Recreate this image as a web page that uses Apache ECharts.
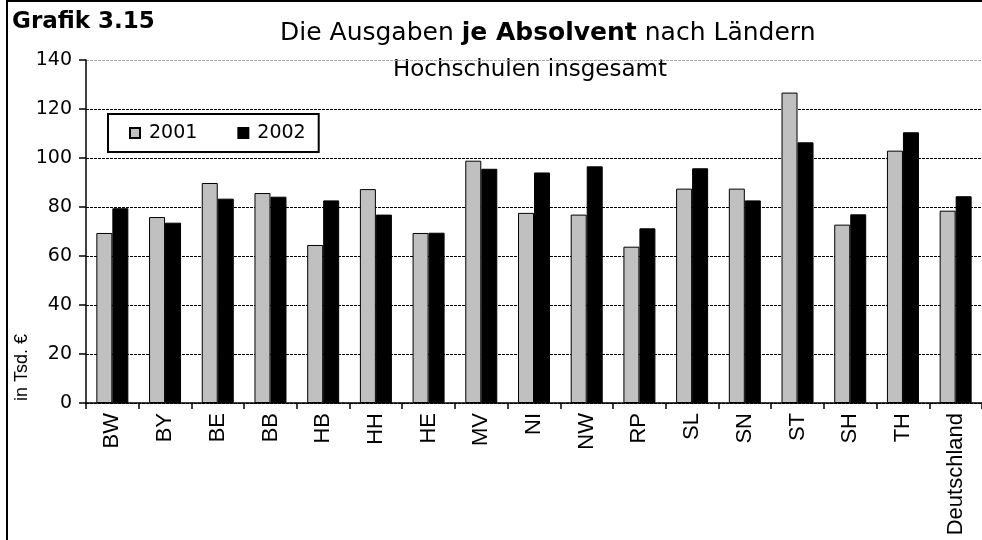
<!DOCTYPE html>
<html>
<head>
<meta charset="utf-8">
<script src="https://cdn.jsdelivr.net/npm/echarts@6/dist/echarts.min.js"></script>
<style>
  html, body { margin: 0; padding: 0; background: #fff; }
  #chart { width: 982px; height: 540px; }
</style>
</head>
<body>
<div id="chart"></div>
<script>
// Länder (Kurzbezeichnungen) und Deutschland gesamt
const categories = ['BW', 'BY', 'BE', 'BB', 'HB', 'HH', 'HE', 'MV', 'NI', 'NW', 'RP', 'SL', 'SN', 'ST', 'SH', 'TH', 'Deutschland'];
// Ausgaben je Absolvent in Tsd. €
const values2001 = [69.4, 75.9, 89.8, 85.7, 64.5, 87.3, 69.4, 98.9, 77.6, 76.9, 63.8, 87.5, 87.5, 126.7, 72.8, 103.0, 78.5];
const values2002 = [79.5, 73.6, 83.4, 84.2, 82.7, 76.9, 69.5, 95.6, 94.1, 96.6, 71.3, 95.8, 82.7, 106.4, 77.0, 110.5, 84.4];
const seriesNames = ['2001', '2002'];
const yTicks = [0, 20, 40, 60, 80, 100, 120, 140];

const SANS = 'DejaVu Sans';
const ARIAL = 'Liberation Sans';

const chart = echarts.init(document.getElementById('chart'), null, { renderer: 'canvas' });

// gridlines: dark dashed, top line lighter
const gridColors = yTicks.map((t, i) => (i === yTicks.length - 1 ? '#a8a8a8' : '#000'));

chart.setOption({
  animation: false,
  backgroundColor: '#fff',
  grid: { left: 86, top: 60, width: 905, height: 343, containLabel: false },
  legend: {
    left: 108,
    top: 114,
    orient: 'horizontal',
    itemWidth: 10,
    itemHeight: 10,
    itemGap: 40,
    padding: [9, 13, 9, 21],
    borderColor: '#000',
    borderWidth: 2,
    borderRadius: 0,
    backgroundColor: '#fff',
    icon: 'rect',
    textStyle: { fontFamily: SANS, fontSize: 19, color: '#000', lineHeight: 20, padding: [0, 0, 0, 4] },
    data: seriesNames
  },
  xAxis: {
    type: 'category',
    data: categories,
    boundaryGap: true,
    axisLine: { lineStyle: { color: '#000', width: 1.5 } },
    axisTick: { show: true, length: 6, lineStyle: { color: '#000', width: 1.5 } },
    axisLabel: { rotate: 90, margin: 10, interval: 0, fontFamily: ARIAL, fontSize: 22, color: '#000' },
    splitLine: { show: false }
  },
  yAxis: {
    type: 'value',
    min: 0,
    max: 140,
    interval: 20,
    axisLine: { show: true, lineStyle: { color: '#000', width: 1.5 } },
    axisTick: { show: true, inside: false, length: 7, lineStyle: { color: '#000', width: 1.5 } },
    axisLabel: { margin: 14, fontFamily: SANS, fontSize: 19, color: '#000' },
    splitLine: { show: true, lineStyle: { color: gridColors, width: 1, type: [3, 1] } }
  },
  series: [
    {
      name: seriesNames[0],
      type: 'bar',
      data: values2001,
      barWidth: 16,
      barGap: '0%',
      itemStyle: { color: '#c0c0c0', borderColor: '#000', borderWidth: 1 }
    },
    {
      name: seriesNames[1],
      type: 'bar',
      data: values2002,
      barWidth: 16,
      barGap: '0%',
      itemStyle: { color: '#000', borderColor: '#000', borderWidth: 1 }
    }
  ],
  graphic: [
    // frame
    {
      type: 'polyline',
      shape: { points: [[7, 545], [7, 1], [990, 1]] },
      style: { stroke: '#000', lineWidth: 2, fill: null },
      silent: true
    },
    {
      type: 'text',
      x: 12, y: 22,
      style: { text: 'Grafik 3.15', font: 'bold 23px "DejaVu Sans"', fill: '#000', align: 'left', verticalAlign: 'middle' }
    },
    {
      type: 'text',
      x: 280, y: 33,
      style: {
        text: '{n|Die Ausgaben }{b|je Absolvent}{n| nach Ländern}',
        align: 'left',
        verticalAlign: 'middle',
        rich: {
          n: { fontFamily: SANS, fontSize: 25, color: '#000' },
          b: { fontFamily: SANS, fontSize: 25, fontWeight: 'bold', color: '#000' }
        }
      }
    },
    {
      type: 'text',
      x: 393, y: 70,
      style: { text: 'Hochschulen insgesamt', font: '23px "DejaVu Sans"', fill: '#000', align: 'left', verticalAlign: 'middle' }
    },
    {
      type: 'text',
      x: 22, y: 401,
      rotation: Math.PI / 2,
      style: { text: 'in Tsd. €', font: '18px "Liberation Sans"', fill: '#000', align: 'left', verticalAlign: 'middle' }
    }
  ]
});
</script>
</body>
</html>
